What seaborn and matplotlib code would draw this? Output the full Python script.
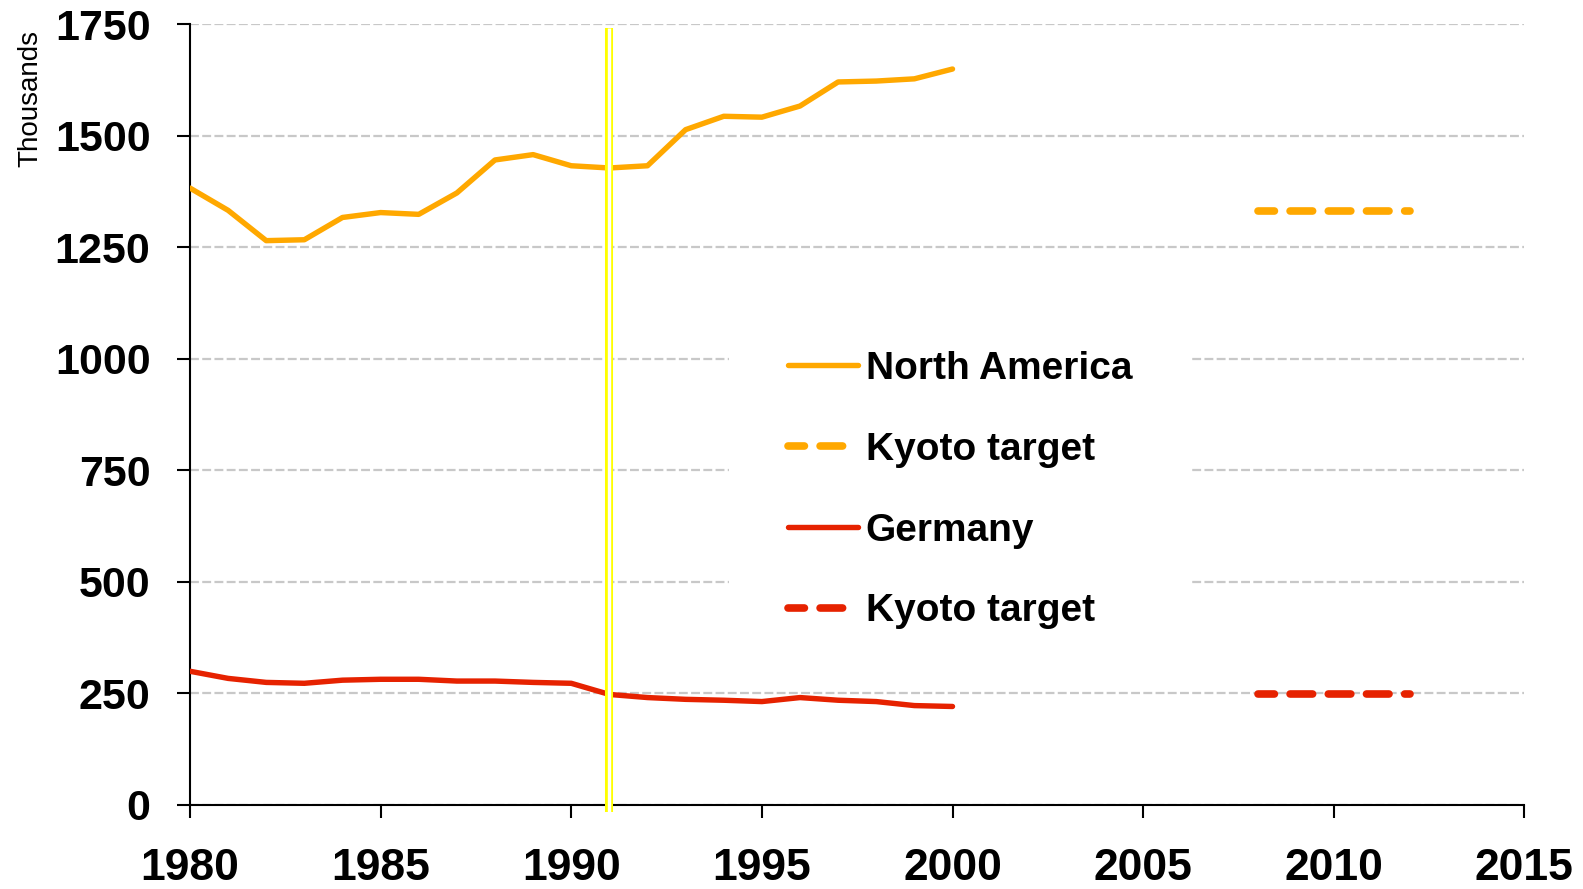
import matplotlib
matplotlib.use("Agg")
import matplotlib.pyplot as plt
import seaborn as sns
import pandas as pd

# ================= DATA =================
years = list(range(1980, 2001))
north_america = [1383, 1333, 1265, 1267, 1317, 1328, 1324, 1372, 1446, 1458,
                 1433, 1428, 1433, 1514, 1544, 1542, 1567, 1621, 1623, 1628, 1650]
germany = [299, 283, 274, 272, 279, 281, 281, 277, 277, 274,
           272, 247, 240, 236, 234, 231, 240, 234, 231, 222, 220]
kyoto_years = [2008, 2012]
kyoto_na = [1331, 1331]
kyoto_de = [249, 249]
marker_year = 1991
x_ticks = list(range(1980, 2016, 5))
y_ticks = list(range(0, 1751, 250))

ORANGE = "#FFA800"
RED = "#E62200"
KYOTO_DASH = (0.8, (2.95, 2.05))

# ================= STYLE =================
sns.set_style("white")
plt.rcParams["font.family"] = ["Liberation Sans", "DejaVu Sans"]
plt.rcParams["text.color"] = "black"
plt.rcParams["xtick.color"] = "black"
plt.rcParams["ytick.color"] = "black"
plt.rcParams["axes.labelcolor"] = "black"

fig = plt.figure(figsize=(15.83, 8.89), dpi=100)
ax = fig.add_axes([0.120, 0.095, 0.843, 0.8775])

df_na = pd.DataFrame({"year": years, "value": north_america})
df_de = pd.DataFrame({"year": years, "value": germany})
df_kna = pd.DataFrame({"year": kyoto_years, "value": kyoto_na})
df_kde = pd.DataFrame({"year": kyoto_years, "value": kyoto_de})

sns.lineplot(data=df_na, x="year", y="value", ax=ax, color=ORANGE, lw=3.9,
             label="North America", zorder=3)
sns.lineplot(data=df_kna, x="year", y="value", ax=ax, color=ORANGE, lw=5.5,
             linestyle=KYOTO_DASH, dash_capstyle="round",
             label="Kyoto target", zorder=3)
sns.lineplot(data=df_de, x="year", y="value", ax=ax, color=RED, lw=3.9,
             label="Germany", zorder=3)
sns.lineplot(data=df_kde, x="year", y="value", ax=ax, color=RED, lw=5.5,
             linestyle=KYOTO_DASH, dash_capstyle="round",
             label="Kyoto target", zorder=3)

# double yellow marker line
ax.axvline(marker_year, ymin=-0.009, ymax=0.995, color="#FFFF00", lw=5.8,
           solid_capstyle="butt", clip_on=False, zorder=5)
ax.axvline(marker_year, ymin=-0.009, ymax=0.995, color="white", lw=2.4,
           solid_capstyle="butt", clip_on=False, zorder=6)

# ================= AXES =================
ax.set_xlim(1980, 2015)
ax.set_ylim(0, 1750)
ax.set_xticks(x_ticks)
ax.set_yticks(y_ticks)
ax.yaxis.grid(True, color="#C8C8C8", lw=1.6, linestyle=(0, (4, 1.5)))
ax.xaxis.grid(False)
ax.set_axisbelow(True)

for s in ["top", "right"]:
    ax.spines[s].set_visible(False)
for s in ["left", "bottom"]:
    ax.spines[s].set_color("black")
    ax.spines[s].set_linewidth(1.5)

ax.tick_params(axis="y", direction="out", length=9.5, width=1.5, pad=19,
               labelsize=31, left=True)
ax.tick_params(axis="x", direction="out", length=9.5, width=1.5, pad=22,
               labelsize=32, bottom=True)
for lab in ax.get_xticklabels() + ax.get_yticklabels():
    lab.set_fontweight("bold")

ax.set_xlabel("")
ax.set_ylabel("Thousands", fontsize=20)
ax.yaxis.set_label_coords(-0.1095, 0.905)

leg = ax.legend(loc="center", bbox_to_anchor=(0.577, 0.403),
                frameon=True, framealpha=1, facecolor="white", edgecolor="none",
                handlelength=1.8, handletextpad=0.2, labelspacing=1.15,
                borderpad=1.5, prop={"weight": "bold", "size": 28})
leg.set_zorder(4)

fig.savefig("out.png", dpi=100)
